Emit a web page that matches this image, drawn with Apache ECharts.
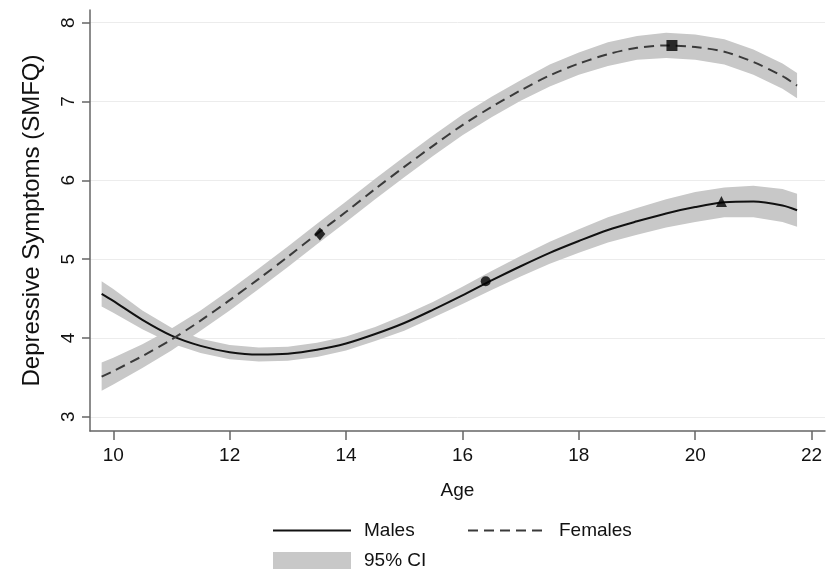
<!DOCTYPE html>
<html lang="en">
<head>
    <meta charset="UTF-8">
    <title>Depressive Symptoms by Age</title>
    <script src="https://cdn.jsdelivr.net/npm/echarts@6/dist/echarts.min.js"></script>
</head>
<style>
    * {
        margin: 0;
        padding: 0;
    }

    #chart {
        width: 836px;
        height: 571px;
        background: #fff;
    }
</style>
<body>
    <div id="chart"></div>
    <script>
        const ages = [9.8, 10, 10.5, 11, 11.5, 12, 12.5, 13, 13.5, 14, 14.5, 15, 15.5, 16,
            16.5, 17, 17.5, 18, 18.5, 19, 19.5, 20, 20.5, 21, 21.5, 21.75];

        const males = [4.56, 4.47, 4.23, 4.03, 3.90, 3.82, 3.79, 3.80, 3.85, 3.93, 4.05, 4.19, 4.36, 4.54,
            4.73, 4.91, 5.08, 5.23, 5.37, 5.48, 5.58, 5.66, 5.72, 5.73, 5.68, 5.62];
        const malesLo = [4.40, 4.32, 4.11, 3.93, 3.81, 3.73, 3.70, 3.71, 3.76, 3.84, 3.96, 4.09, 4.26, 4.43,
            4.61, 4.78, 4.94, 5.08, 5.21, 5.31, 5.40, 5.47, 5.53, 5.53, 5.47, 5.41];
        const malesHi = [4.72, 4.62, 4.35, 4.13, 3.99, 3.91, 3.88, 3.89, 3.94, 4.02, 4.14, 4.29, 4.46, 4.65,
            4.85, 5.04, 5.22, 5.38, 5.53, 5.65, 5.76, 5.85, 5.91, 5.93, 5.89, 5.83];

        const females = [3.51, 3.58, 3.77, 3.98, 4.22, 4.48, 4.75, 5.03, 5.32, 5.60, 5.89, 6.17, 6.44, 6.70,
            6.93, 7.14, 7.33, 7.48, 7.60, 7.68, 7.71, 7.69, 7.63, 7.50, 7.32, 7.20];
        const femalesLo = [3.33, 3.41, 3.62, 3.84, 4.09, 4.35, 4.62, 4.90, 5.19, 5.47, 5.76, 6.04, 6.31, 6.57,
            6.80, 7.01, 7.19, 7.34, 7.45, 7.53, 7.55, 7.53, 7.47, 7.34, 7.16, 7.04];
        const femalesHi = [3.69, 3.75, 3.92, 4.12, 4.35, 4.61, 4.88, 5.16, 5.45, 5.73, 6.02, 6.30, 6.57, 6.83,
            7.06, 7.27, 7.47, 7.62, 7.75, 7.83, 7.87, 7.85, 7.79, 7.66, 7.48, 7.36];

        // marker points on the curves: [age, value]
        const maleMarks = [[16.4, 4.72], [20.45, 5.73]];
        const femaleMarks = [[13.55, 5.32], [19.6, 7.71]];

        const xTicks = [10, 12, 14, 16, 18, 20, 22];
        const yTicks = [3, 4, 5, 6, 7, 8];

        const font = 'Liberation Sans, Arial, sans-serif';
        const bandColor = '#c8c8c8';

        const pairs = (ys) => ages.map((a, i) => [a, ys[i]]);

        // 置信带：上沿 + 反向的下沿 拼成一个多边形
        function band(lo, hi) {
            return {
                name: '95% CI',
                type: 'custom',
                silent: true,
                z: 1,
                itemStyle: { color: bandColor },
                data: [[ages[0], lo[0]]],
                renderItem: function (params, api) {
                    const top = ages.map((a, i) => api.coord([a, hi[i]]));
                    const bottom = ages.map((a, i) => api.coord([a, lo[i]])).reverse();
                    return {
                        type: 'polygon',
                        shape: { points: top.concat(bottom) },
                        style: { fill: bandColor }
                    };
                }
            };
        }

        const chart = echarts.init(document.getElementById('chart'));
        const legendText = { fontSize: 19, lineHeight: 17, color: '#111', fontFamily: font, padding: [0, 0, 0, 8] };
        const option = {
            backgroundColor: '#ffffff',
            animation: false,
            textStyle: { fontFamily: font },
            grid: {
                left: 90,
                right: 11,
                top: 10,
                bottom: 140
            },
            legend: [{
                orient: 'vertical',
                left: 272,
                top: 521,
                padding: 0,
                itemWidth: 78,
                itemHeight: 17,
                itemGap: 11,
                textStyle: legendText,
                data: [
                    { name: 'Males', itemStyle: { opacity: 0 } },
                    { name: '95% CI', icon: 'rect' }
                ]
            }, {
                orient: 'vertical',
                left: 467,
                top: 521,
                padding: 0,
                itemWidth: 78,
                itemHeight: 17,
                textStyle: legendText,
                data: [{ name: 'Females', itemStyle: { opacity: 0 } }]
            }],
            xAxis: {
                type: 'value',
                min: 9.6,
                max: 22.23,
                name: 'Age',
                nameLocation: 'middle',
                nameGap: 50,
                nameTextStyle: { fontSize: 19, color: '#111' },
                axisLine: { lineStyle: { color: '#666', width: 1.5 } },
                axisTick: { customValues: xTicks, length: 9, lineStyle: { color: '#666', width: 1.5 } },
                axisLabel: { customValues: xTicks, fontSize: 19, color: '#111', margin: 15 },
                splitLine: { show: false }
            },
            yAxis: {
                type: 'value',
                min: 2.82,
                max: 8.16,
                name: 'Depressive Symptoms (SMFQ)',
                nameLocation: 'middle',
                nameGap: 46,
                nameTextStyle: { fontSize: 24, color: '#111' },
                axisLine: { show: true, lineStyle: { color: '#666', width: 1.5 } },
                axisTick: { show: true, customValues: yTicks, length: 8, lineStyle: { color: '#666', width: 1.5 } },
                axisLabel: { customValues: yTicks, rotate: 90, fontSize: 19, color: '#111', margin: 12 },
                splitLine: { show: true, lineStyle: { color: '#ececec', width: 1 } }
            },
            series: [
                band(malesLo, malesHi),
                band(femalesLo, femalesHi),
                {
                    name: 'Males',
                    type: 'line',
                    data: pairs(males),
                    smooth: 0.3,
                    symbol: 'none',
                    itemStyle: { color: '#111' },
                    lineStyle: { color: '#111', width: 2 },
                    z: 3
                },
                {
                    name: 'Females',
                    type: 'line',
                    data: pairs(females),
                    smooth: 0.3,
                    symbol: 'none',
                    itemStyle: { color: '#3a3a3a' },
                    lineStyle: { color: '#3a3a3a', width: 2, type: [10, 6] },
                    z: 3
                },
                {
                    name: 'marks',
                    type: 'scatter',
                    z: 4,
                    itemStyle: { color: '#000' },
                    data: [
                        { value: maleMarks[0], symbol: 'circle', symbolSize: 10 },
                        { value: maleMarks[1], symbol: 'triangle', symbolSize: 11 },
                        { value: femaleMarks[0], symbol: 'diamond', symbolSize: [11, 13] },
                        { value: femaleMarks[1], symbol: 'rect', symbolSize: 11 }
                    ]
                }
            ]
        };
        chart.setOption(option);
    </script>
</body>
</html>
